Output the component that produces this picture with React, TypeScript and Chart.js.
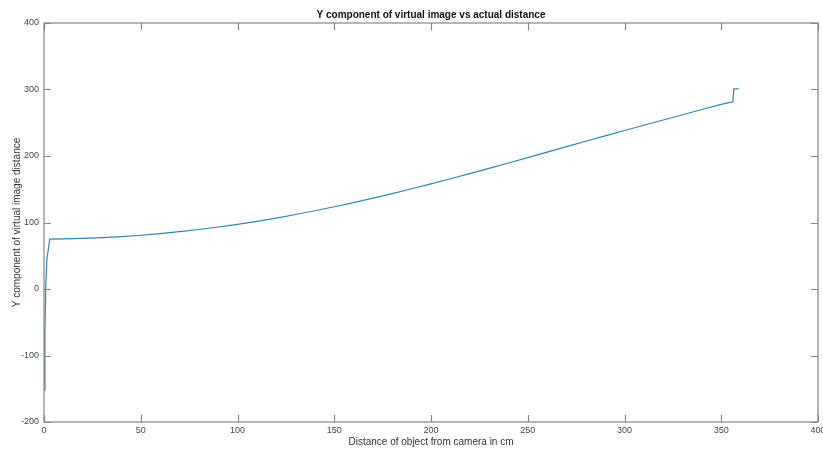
import React, { useEffect, useRef } from "react";
import { Chart, registerables } from "chart.js";

Chart.register(...registerables);

const distanceCm: number[] = [
  0, 0.5, 1, 1.5, 3, 10, 20, 30, 40, 50, 60, 70, 80, 90, 100, 110, 120, 130, 140, 150,
  160, 170, 180, 190, 200, 210, 220, 230, 240, 250, 260, 270, 280, 290, 300, 310, 320,
  330, 340, 350, 356, 356.5, 359,
];
const yComponent: number[] = [
  -152, -60, 10, 45, 75, 75.4, 76.2, 77.3, 78.8, 80.8, 83.3, 86.2, 89.5, 93.2, 97.3,
  101.8, 106.7, 112, 117.7, 123.7, 130, 136.6, 143.5, 150.7, 158.1, 165.8, 173.6, 181.5,
  189.5, 197.6, 205.8, 214, 222.2, 230.3, 238.3, 246.2, 254.1, 262, 269.9, 277.6, 281.5,
  301, 301,
];
const xTicks: number[] = [0, 50, 100, 150, 200, 250, 300, 350, 400];
const yTicks: number[] = [-200, -100, 0, 100, 200, 300, 400];
const titleText = "Y component of virtual image vs actual distance";
const xLabel = "Distance of object from camera in cm";
const yLabel = "Y component of virtual image distance";

const framePlugin = {
  id: "matlabFrame",
  afterDraw(chart: any) {
    const ctx = chart.ctx as CanvasRenderingContext2D;
    const { left, right, top, bottom } = chart.chartArea;
    const xs = chart.scales.x;
    const ys = chart.scales.y;
    const tickLen = 7;
    ctx.save();
    ctx.strokeStyle = "#858585";
    ctx.lineWidth = 1.2;
    ctx.strokeRect(left, top, right - left, bottom - top);
    ctx.beginPath();
    xTicks.forEach((v) => {
      const px = Math.round(xs.getPixelForValue(v)) + 0.5;
      ctx.moveTo(px, bottom);
      ctx.lineTo(px, bottom - tickLen);
      ctx.moveTo(px, top);
      ctx.lineTo(px, top + tickLen);
    });
    yTicks.forEach((v) => {
      const py = Math.round(ys.getPixelForValue(v)) + 0.5;
      ctx.moveTo(left, py);
      ctx.lineTo(left + tickLen, py);
      ctx.moveTo(right, py);
      ctx.lineTo(right - tickLen, py);
    });
    ctx.stroke();

    ctx.fillStyle = "#444";
    ctx.font = "9px 'Liberation Sans', Arial, sans-serif";
    ctx.textAlign = "center";
    ctx.textBaseline = "middle";
    xTicks.forEach((v) => {
      ctx.fillText(String(v), xs.getPixelForValue(v), bottom + 9);
    });
    ctx.textAlign = "right";
    yTicks.forEach((v) => {
      ctx.fillText(String(v), left - 5, ys.getPixelForValue(v));
    });

    ctx.fillStyle = "#333";
    ctx.font = "10px 'Liberation Sans', Arial, sans-serif";
    ctx.textAlign = "center";
    ctx.fillText(xLabel, (left + right) / 2, bottom + 20);
    ctx.save();
    ctx.translate(17, (top + bottom) / 2);
    ctx.rotate(-Math.PI / 2);
    ctx.fillText(yLabel, 0, 0);
    ctx.restore();

    ctx.fillStyle = "#111";
    ctx.font = "bold 10px 'Liberation Sans', Arial, sans-serif";
    ctx.fillText(titleText, (left + right) / 2, top - 8);
    ctx.restore();
  },
};

export default function App() {
  const canvasRef = useRef<HTMLCanvasElement | null>(null);

  useEffect(() => {
    document.body.style.margin = "0";
    const canvas = canvasRef.current;
    if (!canvas) return;
    const chart = new Chart(canvas, {
      type: "line",
      data: {
        datasets: [
          {
            data: distanceCm.map((x, i) => ({ x, y: yComponent[i] })),
            borderColor: "#2f84b3",
            borderWidth: 1.2,
            pointRadius: 0,
            fill: false,
            tension: 0,
          },
        ],
      },
      options: {
        animation: false,
        responsive: false,
        maintainAspectRatio: false,
        layout: { padding: { left: 44, right: 5, top: 23, bottom: 27 } },
        plugins: {
          legend: { display: false },
          title: { display: false },
          tooltip: { enabled: false },
        },
        scales: {
          x: { type: "linear", min: 0, max: 400, display: false },
          y: { type: "linear", min: -200, max: 400, display: false },
        },
      },
      plugins: [framePlugin],
    });
    return () => chart.destroy();
  }, []);

  return (
    <div style={{ width: 823, height: 449, background: "#fff" }}>
      <canvas ref={canvasRef} width={823} height={449} style={{ display: "block" }} />
    </div>
  );
}
